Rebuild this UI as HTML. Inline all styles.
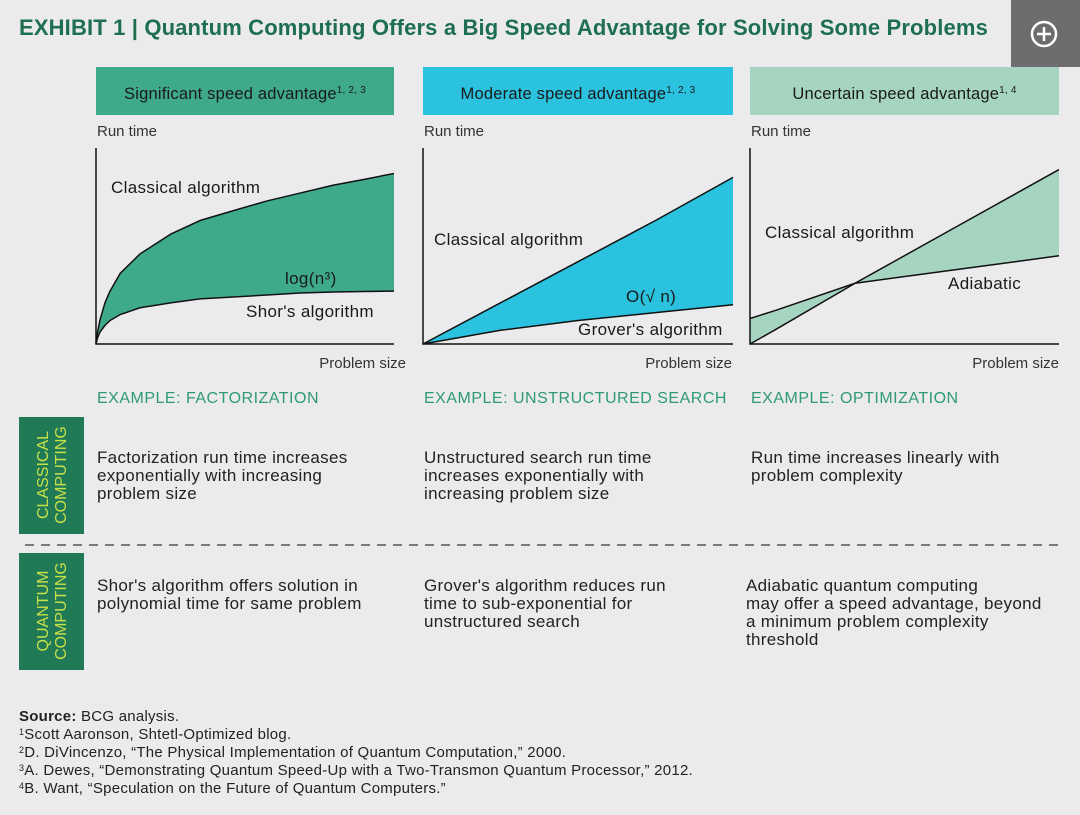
<!DOCTYPE html>
<html><head><meta charset="utf-8"><style>
body{margin:0;background:#ebebed;}
svg{display:block;font-family:"Liberation Sans",sans-serif;}
</style></head><body>
<svg id="s" width="1080" height="815" viewBox="0 0 1080 815">
<rect width="1080" height="815" fill="#ebebed"/>
<text x="19" y="35" font-size="22" font-weight="bold" fill="#1e6f50" letter-spacing="0.15">EXHIBIT 1 | Quantum Computing Offers a Big Speed Advantage for Solving Some Problems</text>
<g>
<rect x="1011" y="0" width="69" height="67" fill="#6d6d6f"/>
<circle cx="1044" cy="34" r="12" fill="none" stroke="#fff" stroke-width="2.5"/>
<path d="M1044 27v14M1037 34h14" stroke="#fff" stroke-width="2.5"/>
</g>
<g id="panels"></g>
<g>
<rect x="19" y="417" width="65" height="117" fill="#1f7a55"/>
<text transform="translate(48,475) rotate(-90)" text-anchor="middle" font-size="16" fill="#c8e04a">CLASSICAL</text>
<text transform="translate(66,475) rotate(-90)" text-anchor="middle" font-size="16" fill="#c8e04a">COMPUTING</text>
</g>
<line x1="25" y1="545" x2="1062" y2="545" stroke="#555" stroke-width="1.5" stroke-dasharray="9,7"/>
<g>
<rect x="19" y="553" width="65" height="117" fill="#1f7a55"/>
<text transform="translate(48,611) rotate(-90)" text-anchor="middle" font-size="16" fill="#c8e04a">QUANTUM</text>
<text transform="translate(66,611) rotate(-90)" text-anchor="middle" font-size="16" fill="#c8e04a">COMPUTING</text>
</g>
<g font-size="17" letter-spacing="0.3" fill="#222">
<text x="97" y="463">Factorization run time increases</text>
<text x="97" y="481">exponentially with increasing</text>
<text x="97" y="499">problem size</text>
<text x="424" y="463">Unstructured search run time</text>
<text x="424" y="481">increases exponentially with</text>
<text x="424" y="499">increasing problem size</text>
<text x="751" y="463">Run time increases linearly with</text>
<text x="751" y="481">problem complexity</text>
<text x="97" y="591">Shor's algorithm offers solution in</text>
<text x="97" y="609">polynomial time for same problem</text>
<text x="424" y="591">Grover's algorithm reduces run</text>
<text x="424" y="609">time to sub-exponential for</text>
<text x="424" y="627">unstructured search</text>
<text x="746" y="591">Adiabatic quantum computing</text>
<text x="746" y="609">may offer a speed advantage, beyond</text>
<text x="746" y="627">a minimum problem complexity</text>
<text x="746" y="645">threshold</text>
</g>
<g font-size="15" letter-spacing="0.25" fill="#222">
<text x="19" y="721"><tspan font-weight="bold">Source:</tspan> BCG analysis.</text>
<text x="19" y="739"><tspan font-size="9" dy="-4">1</tspan><tspan dy="4">Scott Aaronson, Shtetl-Optimized blog.</tspan></text>
<text x="19" y="757"><tspan font-size="9" dy="-4">2</tspan><tspan dy="4">D. DiVincenzo, “The Physical Implementation of Quantum Computation,” 2000.</tspan></text>
<text x="19" y="775"><tspan font-size="9" dy="-4">3</tspan><tspan dy="4">A. Dewes, “Demonstrating Quantum Speed-Up with a Two-Transmon Quantum Processor,” 2012.</tspan></text>
<text x="19" y="793"><tspan font-size="9" dy="-4">4</tspan><tspan dy="4">B. Want, “Speculation on the Future of Quantum Computers.”</tspan></text>
</g>
</svg>
<script>
// normalized problem size (0..1) and run time (0..1)
const xs1 = [0, 0.005, 0.013, 0.03, 0.047, 0.081, 0.148, 0.25, 0.349, 0.46, 0.574, 0.685, 0.795, 0.9, 1];
const classical1 = [0, 0.06, 0.12, 0.21, 0.27, 0.36, 0.46, 0.56, 0.63, 0.68, 0.73, 0.77, 0.81, 0.84, 0.87];
const shor1 = [0, 0.03, 0.06, 0.095, 0.12, 0.15, 0.185, 0.21, 0.23, 0.24, 0.25, 0.26, 0.265, 0.268, 0.27];
const xs2 = [0, 0.25, 0.5, 0.75, 1];
const classical2 = [0, 0.21, 0.42, 0.63, 0.85];
const grover2 = [0, 0.07, 0.12, 0.16, 0.2];
const xs3 = [0, 0.08, 0.34, 0.67, 1];
const classical3 = [0, 0.071, 0.31, 0.6, 0.89];
const adiabatic3 = [0.13, 0.17, 0.31, 0.38, 0.45];

const panels = [
 {x0:96,x1:394,lx:406,title:"Significant speed advantage",sup:"1, 2, 3",hc:"#3eaa8a",fc:"#3eaa8a",xs:xs1,a:classical1,b:shor1,ex:"EXAMPLE: FACTORIZATION",
  labels:[[111,193,"Classical algorithm"],[285,284,"log(n³)"],[246,317,"Shor's algorithm"]]},
 {x0:423,x1:733,lx:732,title:"Moderate speed advantage",sup:"1, 2, 3",hc:"#2bc2df",fc:"#2bc2df",xs:xs2,a:classical2,b:grover2,ex:"EXAMPLE: UNSTRUCTURED SEARCH",
  labels:[[434,245,"Classical algorithm"],[626,302,"O(√ n)"],[578,335,"Grover's algorithm"]]},
 {x0:750,x1:1059,lx:1059,title:"Uncertain speed advantage",sup:"1, 4",hc:"#a5d4c1",fc:"#a5d4c1",xs:xs3,a:classical3,b:adiabatic3,ex:"EXAMPLE: OPTIMIZATION",
  labels:[[765,238,"Classical algorithm"],[948,289,"Adiabatic"]]}
];
const NS="http://www.w3.org/2000/svg";
const root=document.getElementById('panels');
function mk(tag,attrs,parent){const e=document.createElementNS(NS,tag);for(const k in attrs)e.setAttribute(k,attrs[k]);parent.appendChild(e);return e;}
const yTop=148,yBot=344;
panels.forEach((p,i)=>{
 const g=mk('g',{},root);
 
 
 const sx=v=>p.x0+v*(p.x1-p.x0), sy=v=>yBot-v*(yBot-yTop);
 const h=mk('rect',{x:p.x0,y:67,width:p.x1-p.x0,height:48,fill:p.hc},g);
 
 
 const t=mk('text',{x:(p.x0+p.x1)/2,y:99,'text-anchor':'middle','font-size':16.5,fill:'#1a1a1a','letter-spacing':'0.2'},g);
 t.textContent=p.title;
 const sp=mk('tspan',{'font-size':10,dy:-6},t);sp.textContent=p.sup;
 const rt=mk('text',{x:p.x0+1,y:136,'font-size':15,fill:'#333'},g);rt.textContent='Run time';
 
 
 const ps=mk('text',{x:p.lx,y:368,'font-size':15,fill:'#333','text-anchor':'end'},g);ps.textContent='Problem size';
 
 
 const pa=p.xs.map((x,j)=>sx(x)+','+sy(p.a[j]));
 const pb=p.xs.map((x,j)=>sx(x)+','+sy(p.b[j]));
 const area=mk('polygon',{points:pa.concat(pb.slice().reverse()).join(' '),fill:p.fc},g);
 
 
 const la=mk('polyline',{points:pa.join(' '),fill:'none',stroke:'#111','stroke-width':1.5,'stroke-linejoin':'round'},g);
 
 
 const lb=mk('polyline',{points:pb.join(' '),fill:'none',stroke:'#111','stroke-width':1.5,'stroke-linejoin':'round'},g);
 
 
 mk('path',{d:`M${p.x0} ${yTop}V${yBot}H${p.x1}`,fill:'none',stroke:'#111','stroke-width':1.5},g);
 p.labels.forEach(l=>{const e=mk('text',{x:l[0],y:l[1],'font-size':17,'letter-spacing':'0.35',fill:'#1a1a1a'},g);e.textContent=l[2];
  
  });
 const ex=mk('text',{x:p.x0+1,y:403,'font-size':16,fill:'#2f9a72','letter-spacing':'0.5'},g);ex.textContent=p.ex;
 
 
});
</script>
</body></html>
